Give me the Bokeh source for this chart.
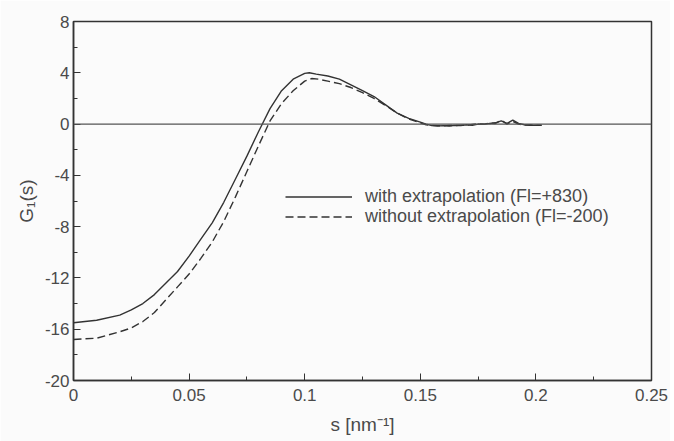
from bokeh.plotting import figure
from bokeh.models import (Span, Legend, LegendItem, SingleIntervalTicker,
                          NumeralTickFormatter, PrintfTickFormatter, Range1d)
from bokeh.embed import file_html
from bokeh.resources import INLINE

# --- data ---
s_with = [0.0, 0.01, 0.02, 0.025, 0.03, 0.035, 0.04, 0.045, 0.05, 0.055, 0.06,
          0.065, 0.07, 0.075, 0.08, 0.085, 0.09, 0.095, 0.1, 0.102, 0.105,
          0.11, 0.115, 0.12, 0.125, 0.13, 0.135, 0.14, 0.145, 0.15, 0.1525,
          0.155, 0.1575, 0.16, 0.1625, 0.165, 0.1675, 0.17, 0.1725, 0.175,
          0.1775, 0.18, 0.1825, 0.185, 0.1875, 0.19, 0.1925, 0.195, 0.1975,
          0.2, 0.2025]
g_with = [-15.5, -15.3, -14.9, -14.5, -14.0, -13.3, -12.4, -11.5, -10.3, -9.0,
          -7.7, -6.1, -4.3, -2.5, -0.6, 1.2, 2.6, 3.5, 3.95, 4.0, 3.9,
          3.75, 3.5, 3.05, 2.6, 2.15, 1.5, 0.85, 0.45, 0.15, 0.0,
          -0.12, -0.15, -0.12, -0.15, -0.1, -0.12, -0.05, -0.1, 0.0,
          -0.02, 0.05, 0.1, 0.25, 0.05, 0.3, 0.05, -0.05, -0.1,
          -0.08, -0.1]

s_without = [0.0, 0.01, 0.02, 0.025, 0.03, 0.035, 0.04, 0.045, 0.05, 0.055,
             0.06, 0.065, 0.07, 0.075, 0.08, 0.085, 0.09, 0.095, 0.1, 0.103,
             0.106, 0.11, 0.115, 0.12, 0.125, 0.13, 0.135, 0.14, 0.145, 0.15,
             0.1525, 0.155, 0.1575, 0.16, 0.1625, 0.165, 0.1675, 0.17, 0.1725,
             0.175, 0.1775, 0.18, 0.1825, 0.185, 0.1875, 0.19, 0.1925, 0.195,
             0.1975, 0.2, 0.2025]
g_without = [-16.8, -16.7, -16.2, -15.9, -15.4, -14.7, -13.7, -12.7, -11.7,
             -10.5, -9.2, -7.6, -5.7, -3.7, -1.7, 0.25, 1.6, 2.6, 3.35, 3.55,
             3.5, 3.35, 3.15, 2.85, 2.45, 2.0, 1.45, 0.85, 0.4, 0.1,
             -0.05, -0.1, -0.12, -0.15, -0.1, -0.12, -0.08, -0.1, -0.02,
             0.02, 0.0, 0.08, 0.05, 0.3, 0.0, 0.2, 0.0, -0.08, -0.05,
             -0.1, -0.08]

label_with = "with extrapolation (Fl=+830)"
label_without = "without extrapolation (Fl=-200)"

FONT = "Liberation Sans"
INK = "#333333"
TXT = "#4a4a4a"
BG = "#fbfbfb"

p = figure(width=670, height=441, output_backend="svg", toolbar_location=None,
           x_range=Range1d(0, 0.25), y_range=Range1d(-20, 8),
           min_border_left=73, min_border_right=19, min_border_top=21,
           min_border_bottom=61)
p.background_fill_color = BG
p.border_fill_color = BG
p.outline_line_color = INK
p.outline_line_width = 1.5
p.xgrid.visible = False
p.ygrid.visible = False

p.xaxis.ticker = SingleIntervalTicker(interval=0.05, num_minor_ticks=2)
p.yaxis.ticker = SingleIntervalTicker(interval=4, num_minor_ticks=2)
p.xaxis.formatter = NumeralTickFormatter(format="0.[00]")
p.yaxis.formatter = PrintfTickFormatter(format="%d")

for ax in (p.xaxis[0], p.yaxis[0]):
    ax.major_tick_in = 7
    ax.major_tick_out = 0
    ax.minor_tick_in = 4
    ax.minor_tick_out = 0
    ax.axis_line_color = INK
    ax.axis_line_width = 1.5
    ax.major_tick_line_color = INK
    ax.minor_tick_line_color = INK
    ax.major_label_text_font = FONT
    ax.major_label_text_font_size = "17px"
    ax.major_label_text_color = TXT
    ax.axis_label_text_font = FONT
    ax.axis_label_text_font_size = "19px"
    ax.axis_label_text_font_style = "normal"
    ax.axis_label_text_color = TXT

p.xaxis.major_label_standoff = 8
p.yaxis.major_label_standoff = 4
p.xaxis.axis_label = "s [nm\u207b\u00b9]"
p.xaxis.axis_label_standoff = 10
p.yaxis.axis_label = "G\u2081(s)"
p.yaxis.axis_label_standoff = 5

p.add_layout(Span(location=0, dimension="width", line_color="#555555",
                  line_width=1.2))

r1 = p.line(s_with, g_with, line_color=INK, line_width=1.4)
r2 = p.line(s_without, g_without, line_color=INK, line_width=1.4,
            line_dash="8 4")

legend_style = dict(glyph_width=67, glyph_height=15, label_height=15,
                    label_standoff=13, padding=0, margin=0,
                    border_line_color=None, background_fill_alpha=0,
                    label_text_font=FONT, label_text_font_size="18px",
                    label_text_color=TXT)
leg1 = Legend(items=[LegendItem(label=label_with, renderers=[r1])],
              location=(212, 173), **legend_style)
leg2 = Legend(items=[LegendItem(label=label_without, renderers=[r2])],
              location=(212, 153), **legend_style)
p.add_layout(leg1)
p.add_layout(leg2)

open("out.html", "w").write(file_html(p, INLINE))
